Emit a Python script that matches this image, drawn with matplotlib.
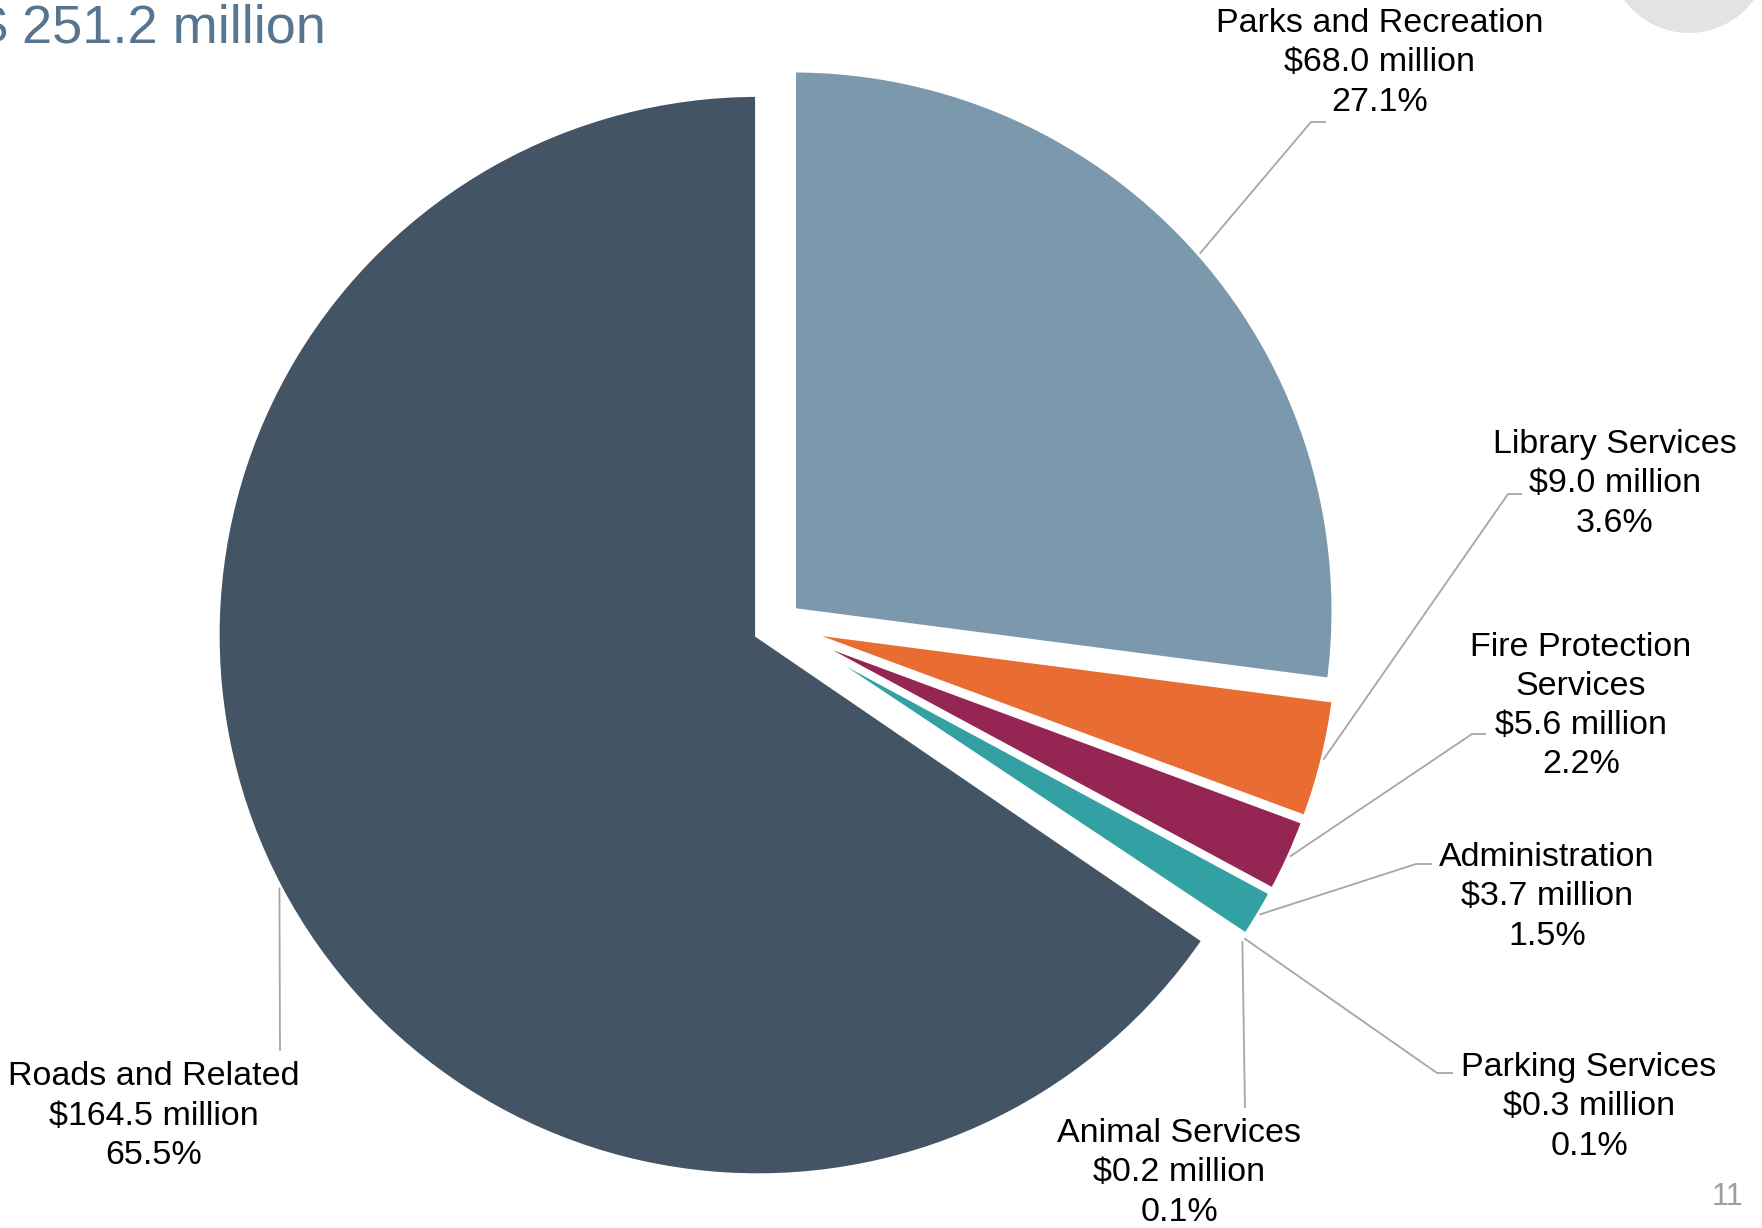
import numpy as np
import matplotlib
matplotlib.use("Agg")
import matplotlib.pyplot as plt
from matplotlib.patches import Ellipse

plt.rcParams['font.family'] = ['Liberation Sans', 'DejaVu Sans']

# 예산 구성 (백만 달러)
labels = ["Parks and Recreation", "Library Services", "Fire Protection\nServices",
          "Administration", "Parking Services", "Animal Services", "Roads and Related"]
amounts = [68.0, 9.0, 5.6, 3.7, 0.3, 0.2, 164.5]
shares = ["27.1%", "3.6%", "2.2%", "1.5%", "0.1%", "0.1%", "65.5%"]
colors = ["#7c98ad", "#e96c33", "#952553", "#33a0a3", "#f0b323", "#8bb04a", "#435464"]
total_text = "$ 251.2 million"

W, H = 1762, 1228
fig = plt.figure(figsize=(W / 100, H / 100), dpi=100)

# 파이 중심/반지름 (픽셀)
cx, cy, rad = 777, 625, 541
side = 3 * rad
ax = fig.add_axes([(cx - side / 2) / W, (H - cy - side / 2) / H, side / W, side / H])

wedges, _ = ax.pie(amounts, colors=colors, startangle=90, counterclock=False,
                   explode=[0.04] * len(amounts),
                   wedgeprops=dict(edgecolor="white", linewidth=4))
ax.set_xlim(-1.5, 1.5)
ax.set_ylim(-1.5, 1.5)
ax.set_aspect("equal")
ax.axis("off")

inv = ax.transData.inverted()


def px(x, y):
    # 위쪽 기준 픽셀 -> 데이터 좌표
    return inv.transform((x, H - y))


# 라벨 위치 (블록 중심, 픽셀)
label_pos = [(1380, 63), (1615, 484), (1581, 706), (1547, 897),
             (1589, 1107), (1179, 1173), (154, 1116)]
# 지시선: 텍스트 쪽 끝점들
leader_pts = [
    [(1311, 122), (1326, 122)],
    [(1508, 494), (1522, 494)],
    [(1472, 734), (1486, 734)],
    [(1416, 864), (1432, 864)],
    [(1437, 1073), (1453, 1073)],
    [(1245, 1108)],
    [(280, 1051)],
]

for w, lab, amt, pct, pos, pts in zip(wedges, labels, amounts, shares, label_pos, leader_pts):
    mid = np.deg2rad((w.theta1 + w.theta2) / 2)
    ax_, ay_ = w.center[0] + w.r * np.cos(mid), w.center[1] + w.r * np.sin(mid)
    xs, ys = [ax_], [ay_]
    for p in pts:
        d = px(*p)
        xs.append(d[0])
        ys.append(d[1])
    ax.plot(xs, ys, color="#a6a6a6", lw=1.3, solid_capstyle="butt", clip_on=False)
    fig.text(pos[0] / W, 1 - pos[1] / H, f"{lab}\n${amt:.1f} million\n{pct}",
             ha="center", va="center", multialignment="center",
             fontsize=24.5, linespacing=1.34, color="black")

# 상단 제목 (왼쪽이 잘려 있음)
fig.text(326 / W, 1 - 43 / H, total_text, ha="right", va="baseline",
         fontsize=39, color="#587590")

# 우측 상단 장식 원
fig.add_artist(Ellipse((1689 / W, 1 + 47 / H), 160 / W, 160 / H,
                       transform=fig.transFigure, facecolor="#e3e3e3", edgecolor="none"))

# 페이지 번호
fig.text(1727 / W, 1 - 1205 / H, "11", ha="center", va="baseline",
         fontsize=22, color="#9a9fa4")

fig.savefig("out.png", dpi=100)
